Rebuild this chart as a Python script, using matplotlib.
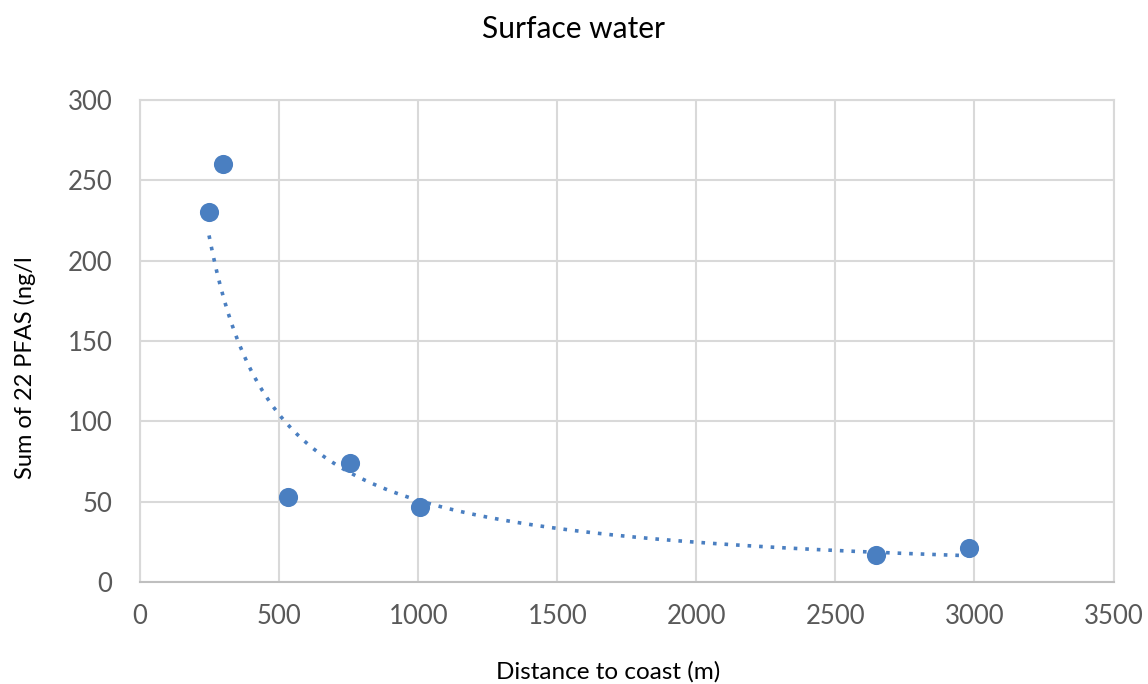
import numpy as np
import matplotlib
matplotlib.use("Agg")
import matplotlib.pyplot as plt

plt.rcParams['font.family'] = ['Lato', 'DejaVu Sans']

distance = [248, 298, 532, 755, 1006, 2645, 2979]
pfas_sum = [230, 260, 53, 74, 47, 17, 21]
x_ticks = [0, 500, 1000, 1500, 2000, 2500, 3000, 3500]
y_ticks = [0, 50, 100, 150, 200, 250, 300]

color = '#4a7fc1'

fig = plt.figure(figsize=(11.48, 6.84), dpi=100)
ax = fig.add_axes([0.122, 0.149, 0.848, 0.705])

# power trendline fitted from the data (as in a spreadsheet trendline)
lx = np.log(distance)
ly = np.log(pfas_sum)
b, loga = np.polyfit(lx, ly, 1)
xs = np.linspace(min(distance), max(distance), 400)
ys = np.exp(loga) * xs ** b
ax.plot(xs, ys, linestyle=(0, (1, 2.2)), color=color, linewidth=2.6, zorder=2)

ax.scatter(distance, pfas_sum, s=190, color=color, zorder=3, linewidths=0)

ax.set_xlim(0, 3500)
ax.set_ylim(0, 300)
ax.set_xticks(x_ticks)
ax.set_yticks(y_ticks)
ax.grid(True, color='#d9d9d9', linewidth=1.5)
ax.set_axisbelow(True)
for s in ['top', 'right', 'left']:
    ax.spines[s].set_color('#d9d9d9')
    ax.spines[s].set_linewidth(1.5)
ax.spines['bottom'].set_color('#bfbfbf')
ax.spines['bottom'].set_linewidth(1.5)
ax.tick_params(length=0, labelsize=18.5, colors='#595959')
ax.tick_params(axis='x', pad=16)
ax.tick_params(axis='y', pad=20)

fig.text(0.5, 0.958, 'Surface water', ha='center', va='center', fontsize=21.5, color='black')
fig.text(0.53, 0.018, 'Distance to coast (m)', ha='center', va='center', fontsize=17.5, color='black')
fig.text(0.022, 0.462, 'Sum of 22 PFAS (ng/l', ha='center', va='center', rotation=90, fontsize=17, color='black')

fig.savefig('out.png', dpi=100)
